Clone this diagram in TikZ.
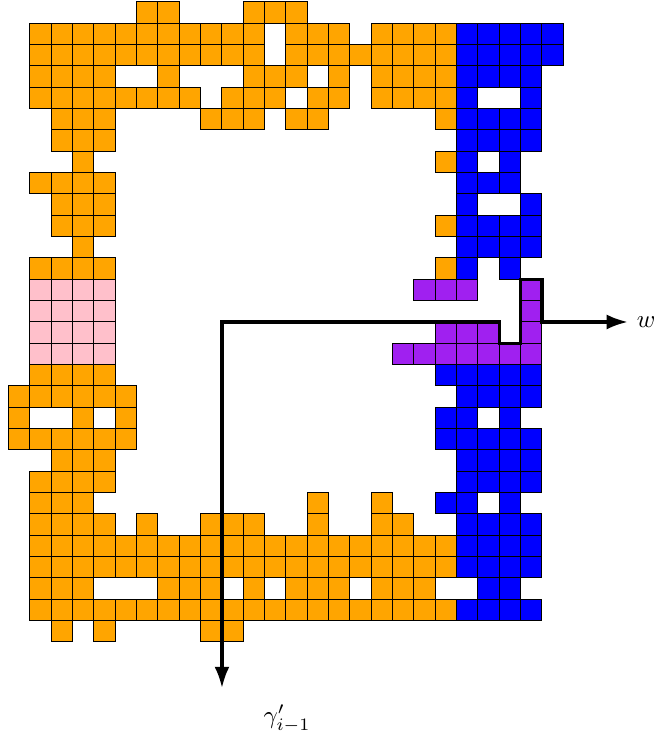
\documentclass[tikz,border=0pt]{standalone}
\usepackage{tikz}
\usetikzlibrary{arrows.meta}
\definecolor{cellorange}{RGB}{255,165,0}
\definecolor{cellblue}{RGB}{0,0,255}
\definecolor{cellpink}{RGB}{255,192,203}
\definecolor{cellpurple}{RGB}{160,32,240}

\begin{document}
\begin{tikzpicture}[x=0.3cm, y=0.3cm,
    cell/.style={draw=black, line width=0.4pt},
    orangecell/.style={cell, fill=cellorange},
    bluecell/.style={cell, fill=cellblue},
    pinkcell/.style={cell, fill=cellpink},
    purplecell/.style={cell, fill=cellpurple},
    route/.style={{Latex[length=8.5pt,width=6pt]}-{Latex[length=8.5pt,width=6pt]}, line width=1.3pt, line join=miter}
]
\useasboundingbox (-0.406,0.094) rectangle (30.21,-34.69);
\foreach \r/\a/\b in {0/6/7, 0/11/13, 1/1/11, 1/13/15, 1/17/20, 2/1/11, 2/13/20,
    3/1/4, 3/7/7, 3/11/13, 3/15/15, 3/17/20, 4/1/8, 4/10/12, 4/14/15, 4/17/20,
    5/2/4, 5/9/11, 5/13/14, 5/20/20, 6/2/4, 7/3/3, 7/20/20, 8/1/4, 9/2/4,
    10/2/4, 10/20/20, 11/3/3, 12/1/4, 12/20/20, 17/1/4, 18/0/5,
    19/0/0, 19/3/3, 19/5/5, 20/0/5, 21/2/4, 22/1/4, 23/1/3, 23/14/14, 23/17/17,
    24/1/4, 24/6/6, 24/9/11, 24/14/14, 24/17/18, 25/1/20, 26/1/20,
    27/1/3, 27/7/9, 27/11/11, 27/13/15, 27/17/19, 28/1/20,
    29/2/2, 29/4/4, 29/9/10}
    \foreach \c in {\a,...,\b} \draw[orangecell] (\c,-\r) rectangle ++(1,-1);
\foreach \r/\a/\b in {13/1/4, 14/1/4, 15/1/4, 16/1/4}
    \foreach \c in {\a,...,\b} \draw[pinkcell] (\c,-\r) rectangle ++(1,-1);
\foreach \r/\a/\b in {1/21/25, 2/21/25, 3/21/24, 4/21/21, 4/24/24, 5/21/24, 6/21/24,
    7/21/21, 7/23/23, 8/21/23, 9/21/21, 9/24/24, 10/21/24, 11/21/24, 12/21/21, 12/23/23,
    17/20/24, 18/21/24, 19/20/21, 19/23/23, 20/20/24, 21/21/24, 22/21/24,
    23/20/21, 23/23/23, 24/21/24, 25/21/24, 26/21/24, 27/22/23, 28/21/24}
    \foreach \c in {\a,...,\b} \draw[bluecell] (\c,-\r) rectangle ++(1,-1);
\foreach \r/\a/\b in {13/19/21, 13/24/24, 14/24/24, 15/20/22, 15/24/24, 16/18/24}
    \foreach \c in {\a,...,\b} \draw[purplecell] (\c,-\r) rectangle ++(1,-1);
\coordinate (split) at (10,-15);
\coordinate (gammaend) at (10,-32.16);
\coordinate (wend) at (29.03,-15);
\draw[route] (gammaend) -- (split) -- (23,-15) -- (23,-16) -- (24,-16) -- (24,-13) -- (25,-13) -- (25,-15) -- (wend);
\node[right] (wlabel) at (wend) {$w$};
\node (gammalabel) at (13.05,-33.6) {$\gamma'_{i-1}$};
\end{tikzpicture}
\end{document}
